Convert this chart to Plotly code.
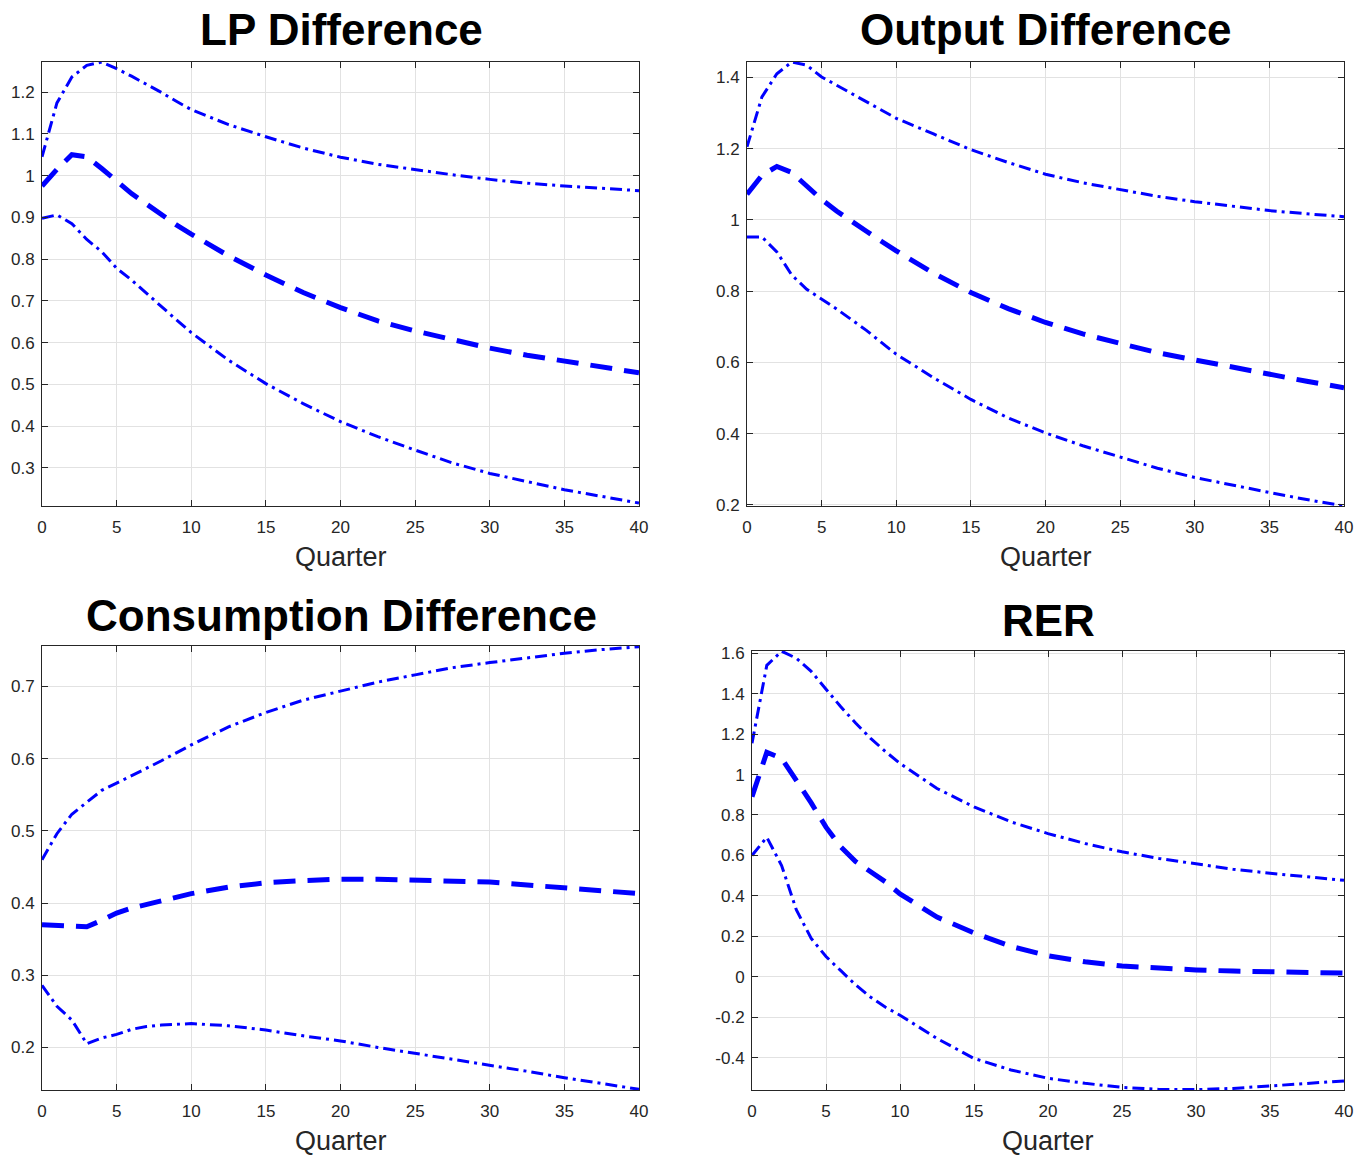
import plotly.graph_objects as go

quarters = [0, 1, 2, 3, 4, 5, 6, 7, 8, 9, 10, 12.5, 15, 17.5, 20, 22.5, 25, 27.5, 30, 32.5, 35, 37.5, 40]

lp_upper = [1.045, 1.174, 1.236, 1.264, 1.272, 1.256, 1.238, 1.219, 1.199, 1.178, 1.158, 1.122, 1.093, 1.066, 1.044, 1.027, 1.014, 1.002, 0.991, 0.982, 0.975, 0.969, 0.964]
lp_median = [0.975, 1.015, 1.05, 1.045, 1.017, 0.985, 0.957, 0.932, 0.906, 0.882, 0.86, 0.808, 0.762, 0.72, 0.684, 0.652, 0.628, 0.606, 0.587, 0.570, 0.556, 0.542, 0.528]
lp_lower = [0.898, 0.906, 0.885, 0.847, 0.818, 0.778, 0.75, 0.718, 0.685, 0.655, 0.624, 0.558, 0.502, 0.454, 0.411, 0.375, 0.343, 0.312, 0.287, 0.267, 0.248, 0.232, 0.216]

out_upper = [1.205, 1.345, 1.41, 1.443, 1.434, 1.401, 1.378, 1.355, 1.33, 1.307, 1.285, 1.241, 1.197, 1.161, 1.128, 1.104, 1.084, 1.066, 1.051, 1.038, 1.026, 1.017, 1.009]
out_median = [1.072, 1.125, 1.15, 1.133, 1.095, 1.057, 1.025, 0.995, 0.968, 0.94, 0.913, 0.85, 0.796, 0.751, 0.712, 0.680, 0.652, 0.627, 0.607, 0.586, 0.567, 0.547, 0.529]
out_lower = [0.952, 0.952, 0.91, 0.845, 0.805, 0.778, 0.75, 0.72, 0.69, 0.656, 0.623, 0.557, 0.496, 0.444, 0.402, 0.366, 0.334, 0.303, 0.277, 0.255, 0.235, 0.215, 0.197]

con_upper = [0.46, 0.496, 0.523, 0.54, 0.556, 0.566, 0.576, 0.586, 0.597, 0.608, 0.619, 0.644, 0.664, 0.681, 0.694, 0.706, 0.716, 0.726, 0.733, 0.74, 0.746, 0.751, 0.755]
con_median = [0.37, 0.369, 0.367, 0.367, 0.376, 0.386, 0.393, 0.398, 0.403, 0.408, 0.413, 0.422, 0.428, 0.431, 0.433, 0.433, 0.432, 0.431, 0.429, 0.425, 0.421, 0.417, 0.413]
con_lower = [0.286, 0.257, 0.238, 0.205, 0.213, 0.218, 0.225, 0.229, 0.231, 0.232, 0.233, 0.230, 0.224, 0.216, 0.209, 0.200, 0.192, 0.184, 0.176, 0.167, 0.158, 0.150, 0.142]

rer_upper = [1.155, 1.54, 1.61, 1.575, 1.51, 1.42, 1.335, 1.255, 1.18, 1.115, 1.055, 0.931, 0.84, 0.766, 0.708, 0.659, 0.618, 0.585, 0.557, 0.532, 0.512, 0.494, 0.477]
rer_median = [0.89, 1.11, 1.08, 0.972, 0.86, 0.74, 0.642, 0.57, 0.52, 0.47, 0.41, 0.295, 0.217, 0.15, 0.104, 0.074, 0.053, 0.042, 0.034, 0.028, 0.023, 0.02, 0.018]
rer_lower = [0.6, 0.69, 0.55, 0.33, 0.19, 0.1, 0.03, -0.04, -0.1, -0.15, -0.19, -0.305, -0.404, -0.461, -0.502, -0.527, -0.547, -0.557, -0.558, -0.552, -0.54, -0.528, -0.515]

x_ticks = [0, 5, 10, 15, 20, 25, 30, 35, 40]
lp_yticks = [0.3, 0.4, 0.5, 0.6, 0.7, 0.8, 0.9, 1.0, 1.1, 1.2]
out_yticks = [0.2, 0.4, 0.6, 0.8, 1.0, 1.2, 1.4]
con_yticks = [0.2, 0.3, 0.4, 0.5, 0.6, 0.7]
rer_yticks = [-0.4, -0.2, 0, 0.2, 0.4, 0.6, 0.8, 1.0, 1.2, 1.4, 1.6]

panels = [
    dict(title="LP Difference", up=lp_upper, md=lp_median, lo=lp_lower, yt=lp_yticks,
         yr=[0.209, 1.272], xd=[42, 639], yd=[62, 506], tx=341, ty=30),
    dict(title="Output Difference", up=out_upper, md=out_median, lo=out_lower, yt=out_yticks,
         yr=[0.197, 1.443], xd=[747, 1344], yd=[62, 506], tx=1046, ty=30),
    dict(title="Consumption Difference", up=con_upper, md=con_median, lo=con_lower, yt=con_yticks,
         yr=[0.141, 0.756], xd=[42, 639], yd=[646, 1090], tx=341, ty=615),
    dict(title="RER", up=rer_upper, md=rer_median, lo=rer_lower, yt=rer_yticks,
         yr=[-0.56, 1.611], xd=[752, 1344], yd=[651, 1090], tx=1048, ty=620),
]

W, H = 1359, 1157
FONT = "Liberation Sans, Arial, Helvetica, sans-serif"
fig = go.Figure()
ann = []
axis_color = "#262626"
for i, p in enumerate(panels, start=1):
    xa = "x" if i == 1 else f"x{i}"
    ya = "y" if i == 1 else f"y{i}"
    for vals, dash, width in [(p["up"], "12px,5px,3px,5px", 3), (p["md"], "22px,12px", 5), (p["lo"], "12px,5px,3px,5px", 3)]:
        fig.add_trace(go.Scatter(x=quarters, y=vals, mode="lines", xaxis=xa, yaxis=ya,
                                 line=dict(color="#0000ff", width=width, dash=dash),
                                 showlegend=False, hoverinfo="skip"))
    common = dict(showline=True, linecolor=axis_color, linewidth=1, mirror="ticks",
                  ticks="inside", ticklen=6, tickcolor=axis_color, showgrid=True,
                  gridcolor="#e2e2e2", gridwidth=1, zeroline=False, automargin=False,
                  tickfont=dict(family=FONT, size=17, color=axis_color))
    sfx = "" if i == 1 else str(i)
    fig.layout["xaxis" + sfx] = dict(
        domain=[p["xd"][0] / W, p["xd"][1] / W], range=[0, 40], tickvals=x_ticks,
        anchor=ya, ticklabelstandoff=6, **common)
    fig.layout["yaxis" + sfx] = dict(
        domain=[1 - p["yd"][1] / H, 1 - p["yd"][0] / H], range=p["yr"], tickvals=p["yt"],
        ticktext=[("%g" % v) for v in p["yt"]], anchor=xa, ticklabelstandoff=3, **common)
    ann.append(dict(text=f"<b>{p['title']}</b>", x=p["tx"] / W, y=1 - p["ty"] / H,
                    xref="paper", yref="paper", showarrow=False, xanchor="center", yanchor="middle",
                    font=dict(family=FONT, size=44, color="black")))
    ann.append(dict(text="Quarter", x=(p["xd"][0] + p["xd"][1]) / 2 / W, y=1 - (p["yd"][1] + 51) / H,
                    xref="paper", yref="paper", showarrow=False, xanchor="center", yanchor="middle",
                    font=dict(family=FONT, size=27, color=axis_color)))

fig.update_layout(width=W, height=H, margin=dict(l=0, r=0, t=0, b=0, pad=0, autoexpand=False),
                  plot_bgcolor="white", paper_bgcolor="white", annotations=ann, showlegend=False)
fig.write_html("out.html")
